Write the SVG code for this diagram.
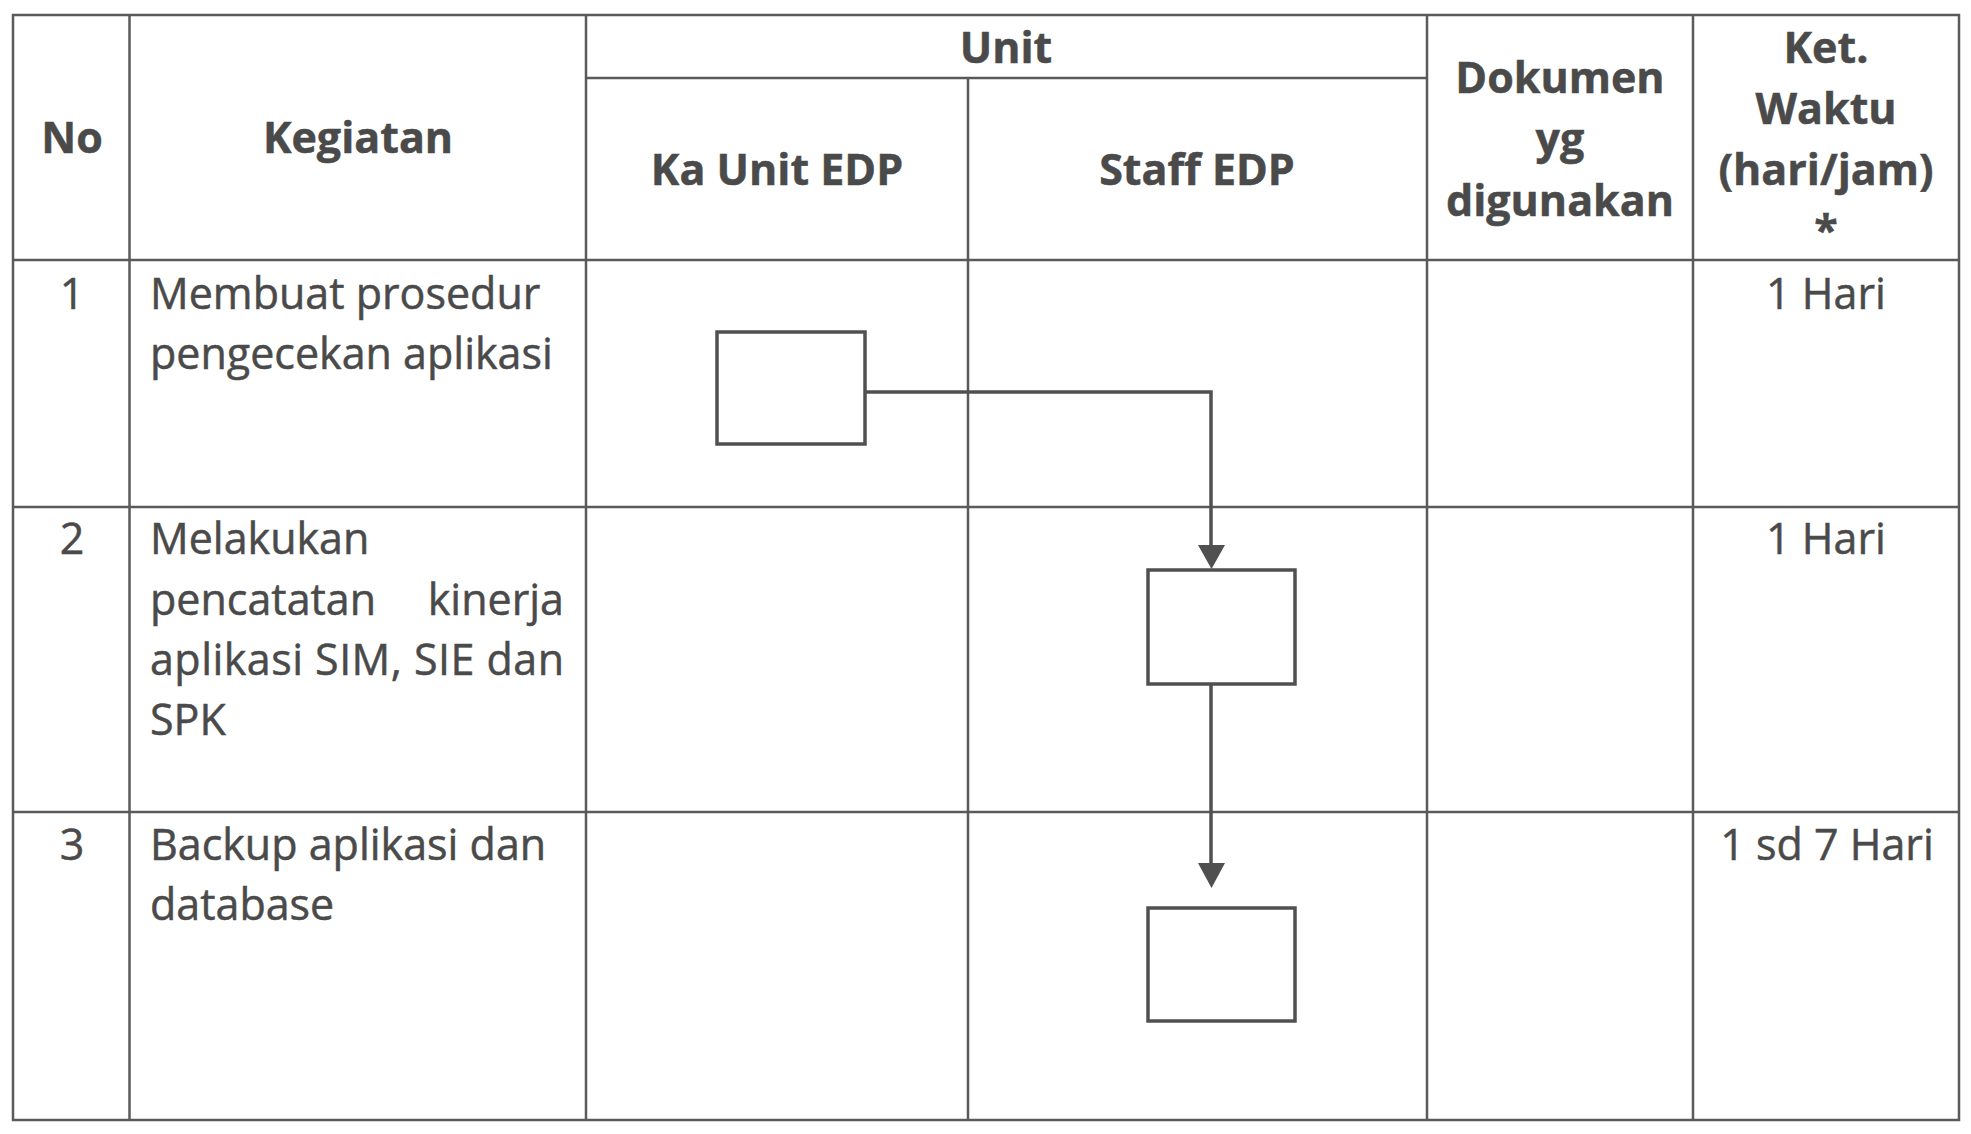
<svg xmlns="http://www.w3.org/2000/svg" width="1971" height="1134" viewBox="0 0 1971 1134">
<defs>
<style>
.grid{stroke:#5a5a5a;stroke-width:2.5;fill:none}
.box{stroke:#505050;stroke-width:3.5;fill:#fff}
.con{stroke:#505050;stroke-width:3.5;fill:none}
.head{fill:#505050}
.t{font-family:"Open Sans","Noto Sans",sans-serif;font-size:43px;fill:#4a4a4a;stroke:#4a4a4a;stroke-width:0.5}
.b{font-weight:bold}
.c{text-anchor:middle}
</style>
</defs>
<rect width="1971" height="1134" fill="#fff"/>
<g id="table">
<rect class="grid" x="13" y="15" width="1946" height="1105"/>
<line class="grid" x1="129.5" y1="15" x2="129.5" y2="1120"/>
<line class="grid" x1="586" y1="15" x2="586" y2="1120"/>
<line class="grid" x1="968" y1="78" x2="968" y2="1120"/>
<line class="grid" x1="1427" y1="15" x2="1427" y2="1120"/>
<line class="grid" x1="1693" y1="15" x2="1693" y2="1120"/>
<line class="grid" x1="586" y1="78" x2="1427" y2="78"/>
<line class="grid" x1="13" y1="260" x2="1959" y2="260"/>
<line class="grid" x1="13" y1="507" x2="1959" y2="507"/>
<line class="grid" x1="13" y1="812" x2="1959" y2="812"/>
</g>
<g id="header">
<text class="t b c" x="72" y="153">No</text>
<text class="t b c" x="358" y="153">Kegiatan</text>
<text class="t b c" x="1006" y="63">Unit</text>
<text class="t b c" x="777" y="185">Ka Unit EDP</text>
<text class="t b c" x="1197" y="185">Staff EDP</text>
<text class="t b c" x="1560" y="93">Dokumen</text>
<text class="t b c" x="1560" y="154">yg</text>
<text class="t b c" x="1560" y="216">digunakan</text>
<text class="t b c" x="1826" y="63">Ket.</text>
<text class="t b c" x="1826" y="124">Waktu</text>
<text class="t b c" x="1826" y="185">(hari/jam)</text>
<text class="t b c" x="1826" y="246">*</text>
</g>
<g id="row1">
<text class="t c" x="72" y="309">1</text>
<text class="t" x="150" y="309">Membuat prosedur</text>
<text class="t" x="150" y="369">pengecekan aplikasi</text>
<text class="t c" x="1826" y="309">1 Hari</text>
</g>
<g id="row2">
<text class="t c" x="72" y="554">2</text>
<text class="t" x="150" y="554">Melakukan</text>
<text class="t" x="150" y="615">pencatatan <tspan x="564" text-anchor="end">kinerja</tspan></text>
<text class="t" x="150" y="675" textLength="414" lengthAdjust="spacing">aplikasi SIM, SIE dan</text>
<text class="t" x="150" y="735">SPK</text>
<text class="t c" x="1826" y="554">1 Hari</text>
</g>
<g id="row3">
<text class="t c" x="72" y="860">3</text>
<text class="t" x="150" y="860">Backup aplikasi dan</text>
<text class="t" x="150" y="920">database</text>
<text class="t c" x="1827" y="860">1 sd 7 Hari</text>
</g>
<g id="node1"><rect class="box" x="717" y="332" width="148" height="112"/></g>
<g id="node2"><rect class="box" x="1148" y="570" width="147" height="114"/></g>
<g id="node3"><rect class="box" x="1148" y="908" width="147" height="113"/></g>
<g id="connectors">
<polyline class="con" points="865,392 1211,392 1211,547"/>
<polygon class="head" points="1198,545 1225,545 1211.5,569"/>
<line class="con" x1="1211" y1="684" x2="1211" y2="865"/>
<polygon class="head" points="1198,863 1225,863 1211.5,888"/>
</g>
</svg>
